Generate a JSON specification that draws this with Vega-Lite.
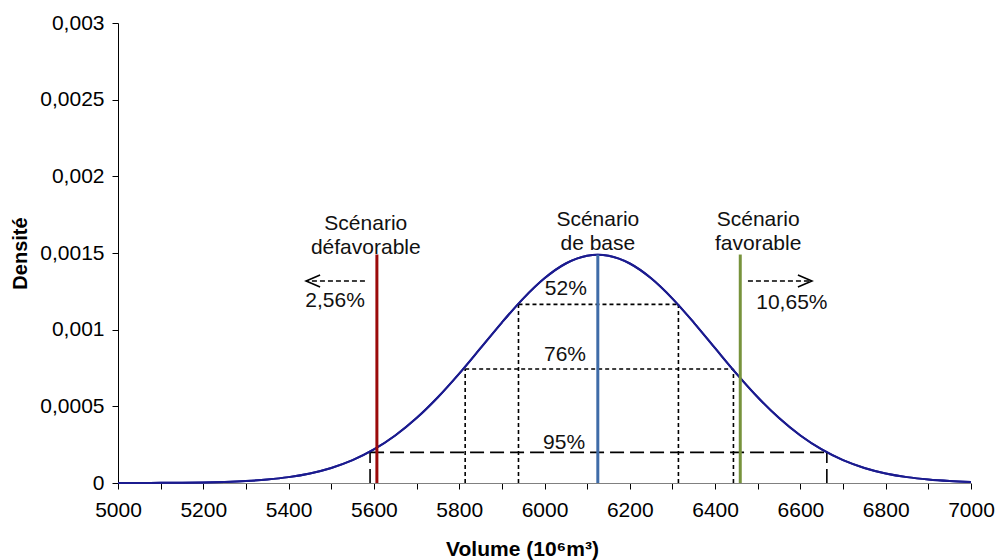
{
  "$schema": "https://vega.github.io/schema/vega-lite/v6.json",
  "width": 853,
  "height": 460,
  "autosize": {"type": "none"},
  "padding": {"left": 118, "top": 23, "right": 29, "bottom": 77},
  "background": "white",
  "config": {"view": {"stroke": null}, "font": "Liberation Sans"},
  "datasets": {
    "curve": [
      {"x": 5000, "y": 0.00000022}, {"x": 5050, "y": 0.00000048}, {"x": 5100, "y": 0.00000099},
      {"x": 5150, "y": 0.00000199}, {"x": 5200, "y": 0.00000385}, {"x": 5250, "y": 0.00000721},
      {"x": 5300, "y": 0.00001304}, {"x": 5350, "y": 0.00002275}, {"x": 5400, "y": 0.00003835},
      {"x": 5450, "y": 0.0000624}, {"x": 5500, "y": 0.0000982}, {"x": 5550, "y": 0.000149},
      {"x": 5600, "y": 0.0002186}, {"x": 5650, "y": 0.0003095}, {"x": 5700, "y": 0.0004234},
      {"x": 5750, "y": 0.0005593}, {"x": 5800, "y": 0.0007135}, {"x": 5850, "y": 0.0008793},
      {"x": 5900, "y": 0.0010465}, {"x": 5950, "y": 0.0012028}, {"x": 6000, "y": 0.0013351},
      {"x": 6050, "y": 0.0014315}, {"x": 6100, "y": 0.0014821}, {"x": 6125, "y": 0.0014886},
      {"x": 6150, "y": 0.0014821}, {"x": 6200, "y": 0.0014315}, {"x": 6250, "y": 0.0013351},
      {"x": 6300, "y": 0.0012028}, {"x": 6350, "y": 0.0010465}, {"x": 6400, "y": 0.0008793},
      {"x": 6450, "y": 0.0007135}, {"x": 6500, "y": 0.0005593}, {"x": 6550, "y": 0.0004234},
      {"x": 6600, "y": 0.0003095}, {"x": 6650, "y": 0.0002186}, {"x": 6700, "y": 0.000149},
      {"x": 6750, "y": 0.0000982}, {"x": 6800, "y": 0.0000624}, {"x": 6850, "y": 0.00003835},
      {"x": 6900, "y": 0.00002275}, {"x": 6950, "y": 0.00001304}, {"x": 7000, "y": 0.00000721}
    ],
    "segments": [
      {"x": 5591, "x2": 6662, "y": 0.0002, "y2": 0.0002, "kind": "long"},
      {"x": 5591, "x2": 5591, "y": 0, "y2": 0.0002, "kind": "long"},
      {"x": 6662, "x2": 6662, "y": 0, "y2": 0.0002, "kind": "long"},
      {"x": 5814, "x2": 6443, "y": 0.000743, "y2": 0.000743, "kind": "short"},
      {"x": 5814, "x2": 5814, "y": 0, "y2": 0.000743, "kind": "short"},
      {"x": 6443, "x2": 6443, "y": 0, "y2": 0.000743, "kind": "short"},
      {"x": 5939, "x2": 6314, "y": 0.001165, "y2": 0.001165, "kind": "short"},
      {"x": 5939, "x2": 5939, "y": 0, "y2": 0.001165, "kind": "short"},
      {"x": 6314, "x2": 6314, "y": 0, "y2": 0.001165, "kind": "short"}
    ],
    "arrows": [
      {"x": 5579, "x2": 5441, "y": 0.001317, "dir": "left"},
      {"x": 6477, "x2": 6627, "y": 0.001317, "dir": "right"}
    ],
    "scenarios": [
      {"x": 5607, "y": 0, "y2": 0.00149, "name": "défavorable"},
      {"x": 6125, "y": 0, "y2": 0.001489, "name": "base"},
      {"x": 6459, "y": 0, "y2": 0.00149, "name": "favorable"}
    ],
    "labels": [
      {"x": 5581, "y": 0.001689, "text": "Scénario\ndéfavorable"},
      {"x": 6125, "y": 0.001715, "text": "Scénario\nde base"},
      {"x": 6501, "y": 0.001715, "text": "Scénario\nfavorable"},
      {"x": 5509, "y": 0.001184, "text": "2,56%"},
      {"x": 6580, "y": 0.001174, "text": "10,65%"},
      {"x": 6050, "y": 0.001265, "text": "52%"},
      {"x": 6048, "y": 0.000835, "text": "76%"},
      {"x": 6046, "y": 0.000259, "text": "95%"}
    ]
  },
  "layer": [
    {
      "data": {"name": "curve"},
      "mark": {"type": "line", "color": "#1B1B8F", "strokeWidth": 2, "interpolate": "monotone"},
      "encoding": {
        "x": {
          "field": "x", "type": "quantitative",
          "scale": {"domain": [5000, 7000], "nice": false, "zero": false},
          "axis": {
            "title": "Volume (10⁶m³)",
            "values": [5000, 5050, 5100, 5150, 5200, 5250, 5300, 5350, 5400, 5450, 5500, 5550, 5600, 5650, 5700, 5750, 5800, 5850, 5900, 5950, 6000, 6050, 6100, 6150, 6200, 6250, 6300, 6350, 6400, 6450, 6500, 6550, 6600, 6650, 6700, 6750, 6800, 6850, 6900, 6950, 7000],
            "labelExpr": "datum.value % 200 === 0 ? format(datum.value, 'd') : ''",
            "labelOverlap": false,
            "labelFlush": false,
            "labelBound": false,
            "labelFontSize": 21,
            "labelColor": "#000000",
            "labelPadding": 10,
            "ticks": true,
            "tickSize": 6,
            "tickWidth": 1,
            "tickColor": "#000000",
            "domainColor": "#808080",
            "grid": false,
            "titleFontSize": 21,
            "titleFontWeight": "bold",
            "titleColor": "#000000",
            "titleX": 404,
            "titleY": 72,
            "titleAlign": "center",
            "titleBaseline": "alphabetic"
          }
        },
        "y": {
          "field": "y", "type": "quantitative",
          "scale": {"domain": [0, 0.003], "nice": false},
          "axis": {
            "title": "Densité",
            "values": [0, 0.0005, 0.001, 0.0015, 0.002, 0.0025, 0.003],
            "labelExpr": "replace(format(datum.value, '~g'), '.', ',')",
            "labelFontSize": 21,
            "labelColor": "#000000",
            "labelPadding": 8,
            "labelFlush": false,
            "ticks": true,
            "tickSize": 6,
            "tickColor": "#000000",
            "domainColor": "#000000",
            "grid": false,
            "titleFontSize": 20,
            "titleFontWeight": "bold",
            "titleColor": "#000000",
            "titleX": -98,
            "titleY": 230,
            "titleAngle": -90,
            "titleAlign": "center",
            "titleBaseline": "middle"
          }
        }
      }
    },
    {
      "data": {"name": "segments"},
      "mark": {"type": "rule", "color": "#000000", "strokeWidth": 1.6},
      "encoding": {
        "x": {"field": "x", "type": "quantitative"},
        "x2": {"field": "x2"},
        "y": {"field": "y", "type": "quantitative"},
        "y2": {"field": "y2"},
        "strokeDash": {"field": "kind", "type": "nominal", "scale": {"domain": ["long", "short"], "range": [[14, 6], [4, 3]]}, "legend": null}
      }
    },
    {
      "data": {"name": "arrows"},
      "mark": {"type": "rule", "color": "#000000", "strokeWidth": 1.6, "strokeDash": [5, 3]},
      "encoding": {
        "x": {"field": "x", "type": "quantitative"},
        "x2": {"field": "x2"},
        "y": {"field": "y", "type": "quantitative"}
      }
    },
    {
      "data": {"name": "arrows"},
      "transform": [{"filter": "datum.dir === 'left'"}],
      "mark": {"type": "point", "shape": "M2,-0.85L0,0L2,0.85", "size": 196, "filled": false, "stroke": "#000000", "strokeWidth": 1.6, "opacity": 1},
      "encoding": {
        "x": {"field": "x2", "type": "quantitative"},
        "y": {"field": "y", "type": "quantitative"}
      }
    },
    {
      "data": {"name": "arrows"},
      "transform": [{"filter": "datum.dir === 'right'"}],
      "mark": {"type": "point", "shape": "M-2,-0.85L0,0L-2,0.85", "size": 196, "filled": false, "stroke": "#000000", "strokeWidth": 1.6, "opacity": 1},
      "encoding": {
        "x": {"field": "x2", "type": "quantitative"},
        "y": {"field": "y", "type": "quantitative"}
      }
    },
    {
      "data": {"name": "curve"},
      "mark": {"type": "line", "color": "#1B1B8F", "strokeWidth": 2, "interpolate": "monotone"},
      "encoding": {
        "x": {"field": "x", "type": "quantitative"},
        "y": {"field": "y", "type": "quantitative"}
      }
    },
    {
      "data": {"name": "scenarios"},
      "mark": {"type": "rule", "strokeWidth": 3},
      "encoding": {
        "x": {"field": "x", "type": "quantitative"},
        "y": {"field": "y", "type": "quantitative"},
        "y2": {"field": "y2"},
        "color": {"field": "name", "type": "nominal", "scale": {"domain": ["défavorable", "base", "favorable"], "range": ["#9B0A0A", "#3F6CA8", "#77933C"]}, "legend": null}
      }
    },
    {
      "data": {"name": "labels"},
      "mark": {"type": "text", "fontSize": 21, "align": "center", "baseline": "middle", "lineBreak": "\n", "lineHeight": 24, "color": "#111111"},
      "encoding": {
        "x": {"field": "x", "type": "quantitative"},
        "y": {"field": "y", "type": "quantitative"},
        "text": {"field": "text"}
      }
    }
  ]
}
